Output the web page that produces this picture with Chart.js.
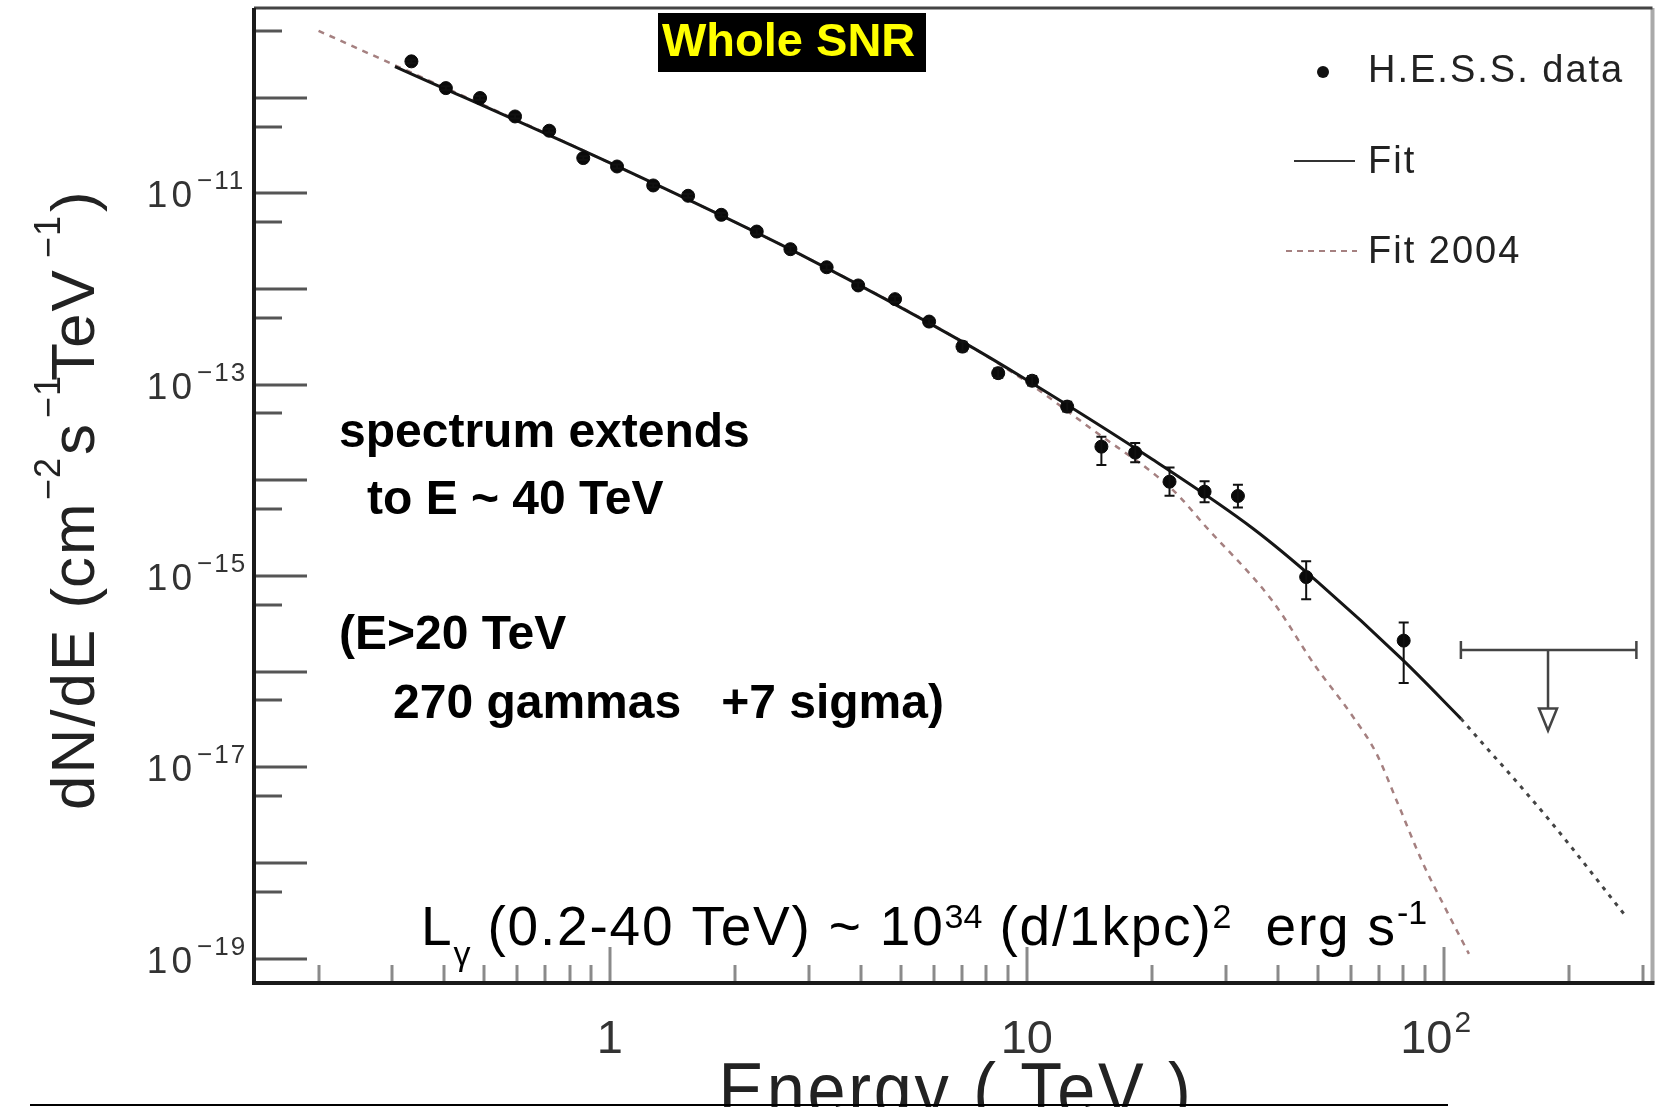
<!DOCTYPE html>
<html>
<head>
<meta charset="utf-8">
<script src="https://cdn.jsdelivr.net/npm/chart.js@4.4.1/dist/chart.umd.min.js"></script>
<style>
  html, body { margin: 0; padding: 0; background: #fff; }
  #wrap { width: 1660px; height: 1107px; position: relative; }
</style>
</head>
<body>
<div id="wrap"><canvas id="spectrum"></canvas></div>
<script>
// H.E.S.S. spectrum points: energy (TeV), dN/dE (cm^-2 s^-1 TeV^-1)
const energy = [0.334, 0.404, 0.488, 0.592, 0.715, 0.863, 1.04, 1.27, 1.54, 1.85, 2.25, 2.71, 3.31, 3.94, 4.83, 5.83, 7.01, 8.54, 10.3, 12.5, 15.1, 18.2, 22.0, 26.7, 32.1, 46.8, 80.2];
const flux = [2.40e-10, 1.26e-10, 9.93e-11, 6.37e-11, 4.52e-11, 2.34e-11, 1.91e-11, 1.21e-11, 9.44e-12, 5.97e-12, 3.99e-12, 2.61e-12, 1.69e-12, 1.09e-12, 7.84e-13, 4.57e-13, 2.50e-13, 1.32e-13, 1.10e-13, 5.90e-14, 2.25e-14, 1.95e-14, 9.68e-15, 7.61e-15, 6.86e-15, 9.75e-16, 2.11e-16];
const fluxLo = [2.29e-10, 1.20e-10, 9.48e-11, 6.08e-11, 4.32e-11, 2.23e-11, 1.82e-11, 1.16e-11, 9.02e-12, 5.70e-12, 3.72e-12, 2.43e-12, 1.58e-12, 1.02e-12, 7.31e-13, 4.26e-13, 2.23e-13, 1.18e-13, 9.80e-14, 5.26e-14, 1.45e-14, 1.55e-14, 6.90e-15, 5.90e-15, 5.20e-15, 5.73e-16, 7.60e-17];
const fluxHi = [2.51e-10, 1.32e-10, 1.04e-10, 6.67e-11, 4.73e-11, 2.45e-11, 2.00e-11, 1.27e-11, 9.88e-12, 6.25e-12, 4.28e-12, 2.80e-12, 1.81e-12, 1.17e-12, 8.40e-13, 4.90e-13, 2.81e-13, 1.48e-13, 1.23e-13, 6.62e-14, 2.86e-14, 2.45e-14, 1.36e-14, 9.80e-15, 9.00e-15, 1.43e-15, 3.26e-16];

// upper limit in the last bin
const ulEnergy = [178];
const ulEnergyLo = [110];
const ulEnergyHi = [290];
const ulFlux = [1.68e-16];
const ulArrowTip = [2.42e-17];

// current fit (solid part, then extrapolation)
const fitEnergy = [0.305, 1, 3, 7, 10, 20, 35, 50, 80, 110];
const fitFlux = [2.12e-10, 2.08e-11, 2.07e-12, 2.82e-13, 1.12e-13, 1.66e-14, 3.10e-15, 8.57e-16, 1.31e-16, 3.23e-17];
const fitExtEnergy = [110, 180, 275];
const fitExtFlux = [3.23e-17, 2.75e-18, 2.69e-19];

// 2004 fit
const fit2004Energy = [0.2, 1, 3, 7, 10, 14.4, 22.4, 26.9, 38.7, 49.2, 59.9, 68.9, 77.5, 89.1, 100.3, 115];
const fit2004Flux = [5.01e-10, 2.08e-11, 2.07e-12, 2.82e-13, 1.07e-13, 3.37e-14, 7.94e-15, 3.27e-15, 5.60e-16, 1.15e-16, 3.63e-17, 1.41e-17, 4.27e-18, 1.00e-18, 3.55e-19, 1.12e-19];

// axes
const xMin = 0.140, xMax = 317;
const yMin = 5.56e-20, yMax = 8.67e-10;
const xLabelValues = [1, 10, 100];
const xLabelBase = ['1', '10', '10'];
const xLabelSup = ['', '', '2'];
const yLabelPowers = [-11, -13, -15, -17, -19];

const FONT = '"Liberation Sans", Arial, sans-serif';
const toPts = (xs, ys) => xs.map((v, i) => ({ x: v, y: ys[i] }));

function runs(ctx, parts, x, y) {
    // parts: [text, font, dy, spacing]
    let cx = x;
    for (const [t, font, dy, sp] of parts) {
        ctx.font = font;
        ctx.letterSpacing = (sp || 0) + 'px';
        ctx.fillText(t, cx, y + dy);
        cx += ctx.measureText(t).width;
    }
    ctx.letterSpacing = '0px';
    return cx;
}

const decorations = {
    id: 'decorations',
    beforeDraw(chart) {
        const ctx = chart.ctx;
        ctx.save();
        ctx.fillStyle = '#fff';
        ctx.fillRect(0, 0, chart.width, chart.height);
        ctx.restore();
    },
    afterDatasetsDraw(chart) {
        const { ctx, chartArea: a, scales: { x, y } } = chart;
        ctx.save();

        // error bars
        ctx.strokeStyle = '#111';
        ctx.lineWidth = 2;
        energy.forEach((e, i) => {
            const px = x.getPixelForValue(e);
            const lo = y.getPixelForValue(fluxLo[i]);
            const hi = y.getPixelForValue(fluxHi[i]);
            ctx.beginPath();
            ctx.moveTo(px, lo); ctx.lineTo(px, hi);
            ctx.moveTo(px - 5, lo); ctx.lineTo(px + 5, lo);
            ctx.moveTo(px - 5, hi); ctx.lineTo(px + 5, hi);
            ctx.stroke();
        });

        // upper limit with arrow
        ctx.strokeStyle = '#444';
        ctx.lineWidth = 2.5;
        ulEnergy.forEach((e, i) => {
            const cx = x.getPixelForValue(e);
            const x0 = x.getPixelForValue(ulEnergyLo[i]);
            const x1 = x.getPixelForValue(ulEnergyHi[i]);
            const py = y.getPixelForValue(ulFlux[i]);
            const tip = y.getPixelForValue(ulArrowTip[i]);
            ctx.beginPath();
            ctx.moveTo(x0, py); ctx.lineTo(x1, py);
            ctx.moveTo(x0, py - 9); ctx.lineTo(x0, py + 9);
            ctx.moveTo(x1, py - 9); ctx.lineTo(x1, py + 9);
            ctx.moveTo(cx, py); ctx.lineTo(cx, tip - 22);
            ctx.stroke();
            ctx.beginPath();
            ctx.moveTo(cx - 9, tip - 22); ctx.lineTo(cx + 9, tip - 22); ctx.lineTo(cx, tip);
            ctx.closePath();
            ctx.fillStyle = '#fff';
            ctx.fill();
            ctx.stroke();
        });

        // y ticks: decades long, 5x decades short
        ctx.strokeStyle = '#555';
        ctx.lineWidth = 3;
        for (let n = -20; n <= -9; n++) {
            [[1, 53], [5, 28]].forEach(([m, len]) => {
                const v = m * Math.pow(10, n);
                if (v <= yMin || v >= yMax) return;
                const py = Math.round(y.getPixelForValue(v));
                ctx.beginPath();
                ctx.moveTo(a.left, py); ctx.lineTo(a.left + len, py);
                ctx.stroke();
            });
        }

        // x ticks
        ctx.strokeStyle = '#8a8a8a';
        ctx.lineWidth = 3;
        for (let n = -1; n <= 2; n++) {
            for (let m = 1; m <= 9; m++) {
                const v = m * Math.pow(10, n);
                if (v <= xMin || v >= xMax) continue;
                const px = Math.round(x.getPixelForValue(v));
                const len = m === 1 ? 36 : 18;
                ctx.beginPath();
                ctx.moveTo(px, a.bottom); ctx.lineTo(px, a.bottom - len);
                ctx.stroke();
            }
        }

        // frame
        ctx.lineWidth = 4;
        ctx.strokeStyle = '#aaa';
        ctx.beginPath(); ctx.moveTo(a.right, a.top); ctx.lineTo(a.right, a.bottom); ctx.stroke();
        ctx.strokeStyle = '#444';
        ctx.lineWidth = 3;
        ctx.beginPath(); ctx.moveTo(a.left, a.top); ctx.lineTo(a.right, a.top); ctx.stroke();
        ctx.strokeStyle = '#1a1a1a';
        ctx.lineWidth = 4;
        ctx.beginPath(); ctx.moveTo(a.left, a.top); ctx.lineTo(a.left, a.bottom); ctx.lineTo(a.right + 2, a.bottom); ctx.stroke();
        ctx.restore();
    },
    afterDraw(chart) {
        const { ctx, scales: { x, y } } = chart;
        ctx.save();
        ctx.textBaseline = 'alphabetic';

        // y tick labels
        ctx.fillStyle = '#333';
        yLabelPowers.forEach(p => {
            const py = y.getPixelForValue(Math.pow(10, p));
            ctx.font = '37px ' + FONT;
            ctx.letterSpacing = '4px';
            ctx.textAlign = 'right';
            ctx.fillText('10', 196, py + 14);
            ctx.textAlign = 'left';
            ctx.font = '26px ' + FONT;
            ctx.letterSpacing = '2px';
            ctx.fillText('\u2212' + String(-p), 197, py - 4);
        });
        ctx.letterSpacing = '0px';

        // x tick labels
        xLabelValues.forEach((v, i) => {
            const px = x.getPixelForValue(v);
            ctx.font = '47px ' + FONT;
            const w = ctx.measureText(xLabelBase[i]).width;
            ctx.font = '30px ' + FONT;
            const ws = xLabelSup[i] ? ctx.measureText(xLabelSup[i]).width + 2 : 0;
            const x0 = px - (w + ws) / 2 - (xLabelSup[i] ? 8 : 0);
            ctx.textAlign = 'left';
            ctx.font = '47px ' + FONT;
            ctx.fillText(xLabelBase[i], x0, 1053);
            if (xLabelSup[i]) {
                ctx.font = '30px ' + FONT;
                ctx.fillText(xLabelSup[i], x0 + w + 2, 1032);
            }
        });

        // x title (runs off the bottom edge)
        ctx.save();
        ctx.fillStyle = '#222';
        ctx.translate(956, 1116);
        ctx.scale(0.9, 1);
        ctx.font = '76px ' + FONT;
        ctx.letterSpacing = '3px';
        ctx.textAlign = 'center';
        ctx.fillText('Energy ( TeV )', 0, 0);
        ctx.restore();

        // y title, rotated
        ctx.save();
        ctx.fillStyle = '#222';
        ctx.translate(94, 0);
        ctx.rotate(-Math.PI / 2);
        ctx.textAlign = 'left';
        const main = '62px ' + FONT, sup = '36px ' + FONT;
        runs(ctx, [['dN/dE (', main, 0, 2]], -810, 0);
        runs(ctx, [['cm', main, 0, 2]], -588, 0);
        runs(ctx, [['\u22122', sup, -34, 1]], -500, 0);
        runs(ctx, [['s', main, 0, 2]], -455, 0);
        runs(ctx, [['\u22121', sup, -34, 1]], -418, 0);
        runs(ctx, [['TeV', main, 0, 2]], -381, 0);
        runs(ctx, [['\u22121', sup, -34, 1]], -258, 0);
        runs(ctx, [[')', main, 0, 2]], -212, 0);
        ctx.restore();

        // title badge
        ctx.fillStyle = '#000';
        ctx.fillRect(658, 13, 268, 59);
        ctx.fillStyle = '#ffff00';
        ctx.font = 'bold 47px ' + FONT;
        ctx.textAlign = 'left';
        ctx.fillText('Whole SNR', 662, 56);

        // legend
        ctx.fillStyle = '#111';
        ctx.beginPath();
        ctx.arc(1323, 72, 6, 0, Math.PI * 2);
        ctx.fill();
        ctx.strokeStyle = '#333';
        ctx.lineWidth = 2;
        ctx.beginPath(); ctx.moveTo(1294, 161); ctx.lineTo(1355, 161); ctx.stroke();
        ctx.strokeStyle = 'rgb(165,128,128)';
        ctx.setLineDash([6, 5]);
        ctx.beginPath(); ctx.moveTo(1286, 251); ctx.lineTo(1357, 251); ctx.stroke();
        ctx.setLineDash([]);
        ctx.fillStyle = '#222';
        runs(ctx, [['H.E.S.S. data', '38px ' + FONT, 0, 2]], 1368, 82);
        runs(ctx, [['Fit', '38px ' + FONT, 0, 2]], 1368, 173);
        runs(ctx, [['Fit 2004', '38px ' + FONT, 0, 2]], 1368, 263);

        // annotations
        ctx.fillStyle = '#000';
        const bold = 'bold 48px ' + FONT;
        runs(ctx, [['spectrum extends', bold, 0, 0]], 339, 447);
        runs(ctx, [['to E ~ 40 TeV', bold, 0, 0]], 367, 514);
        runs(ctx, [['(E>20 TeV', bold, 0, 0]], 339, 649);
        runs(ctx, [['270 gammas   +7 sigma)', bold, 0, 0]], 393, 718);

        // luminosity line
        const reg = '55px ' + FONT, small = '34px ' + FONT;
        runs(ctx, [
            ['L', reg, 0, 1.8],
            ['\u03b3', small, 20, 0],
            [' (0.2-40 TeV) ~ 10', reg, 0, 1.8],
            ['34', small, -17, 0],
            [' (d/1kpc)', reg, 0, 1.8],
            ['2', small, -17, 0],
            ['  erg s', reg, 0, 1.8],
            ['-1', small, -21, 0]
        ], 421, 945);

        // slide rule under the plot
        ctx.strokeStyle = '#000';
        ctx.lineWidth = 2;
        ctx.beginPath(); ctx.moveTo(30, 1105); ctx.lineTo(1448, 1105); ctx.stroke();
        ctx.restore();
    }
};

new Chart(document.getElementById('spectrum'), {
    type: 'scatter',
    data: {
        datasets: [
            {
                label: 'H.E.S.S. data',
                data: toPts(energy, flux),
                backgroundColor: '#0a0a0a',
                borderColor: '#0a0a0a',
                pointRadius: 6.5,
                showLine: false
            },
            {
                label: 'Fit',
                data: toPts(fitEnergy, fitFlux),
                showLine: true,
                borderColor: '#161616',
                borderWidth: 3,
                pointRadius: 0,
                cubicInterpolationMode: 'monotone'
            },
            {
                label: 'Fit extrapolation',
                data: toPts(fitExtEnergy, fitExtFlux),
                showLine: true,
                borderColor: '#444',
                borderWidth: 3,
                borderDash: [4, 6],
                pointRadius: 0,
                cubicInterpolationMode: 'monotone'
            },
            {
                label: 'Fit 2004',
                data: toPts(fit2004Energy, fit2004Flux),
                showLine: true,
                borderColor: 'rgb(165,128,128)',
                borderWidth: 2.5,
                borderDash: [6, 6],
                pointRadius: 0,
                cubicInterpolationMode: 'monotone'
            }
        ]
    },
    options: {
        responsive: true,
        maintainAspectRatio: false,
        animation: false,
        devicePixelRatio: 1,
        layout: { padding: { left: 254, right: 7, top: 8, bottom: 124 } },
        plugins: { legend: { display: false }, tooltip: { enabled: false } },
        scales: {
            x: { type: 'logarithmic', min: xMin, max: xMax, display: false },
            y: { type: 'logarithmic', min: yMin, max: yMax, display: false }
        }
    },
    plugins: [decorations]
});
</script>
</body>
</html>
